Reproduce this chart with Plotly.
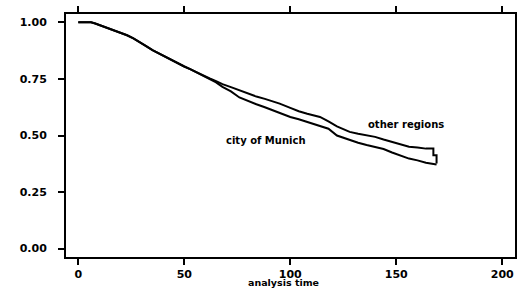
import plotly.graph_objects as go

# shared early part of both Kaplan-Meier curves
shared_t = [0, 6, 8, 10, 13, 16, 20, 23, 26, 29, 32, 35, 38, 41, 44, 47, 50, 53, 56, 59]
shared_s = [1.0, 1.0, 0.995, 0.988, 0.978, 0.968, 0.956, 0.943, 0.929, 0.913, 0.895,
            0.877, 0.862, 0.848, 0.833, 0.818, 0.805, 0.792, 0.778, 0.765]

other_t = [62, 65, 68, 72, 76, 80, 84, 88, 92, 95, 100, 104, 108, 112, 114, 118, 122,
           125, 128, 132, 136, 140, 144, 148, 152, 156, 160, 164, 167.5, 167.5, 169, 169]
other_s = [0.752, 0.740, 0.727, 0.714, 0.700, 0.684, 0.672, 0.662, 0.650, 0.641, 0.622,
           0.607, 0.596, 0.586, 0.582, 0.562, 0.540, 0.528, 0.516, 0.508, 0.500, 0.494,
           0.482, 0.472, 0.462, 0.450, 0.447, 0.442, 0.442, 0.413, 0.413, 0.376]

munich_t = [62, 65, 68, 72, 76, 80, 84, 88, 92, 95, 100, 104, 108, 114, 118, 122, 125,
            128, 132, 136, 140, 144, 148, 152, 156, 160, 164, 169]
munich_s = [0.750, 0.735, 0.715, 0.695, 0.668, 0.652, 0.638, 0.625, 0.610, 0.598, 0.582,
            0.572, 0.560, 0.543, 0.530, 0.500, 0.490, 0.480, 0.468, 0.458, 0.450, 0.440,
            0.425, 0.410, 0.398, 0.390, 0.380, 0.372]

x_ticks = [0, 50, 100, 150, 200]
y_ticks = [0, 0.25, 0.5, 0.75, 1.0]
y_tick_text = ["0.00", "0.25", "0.50", "0.75", "1.00"]

labels = ["other regions", "city of Munich"]
label_x = [154.6, 88.4]
label_y = [0.55, 0.479]

FONT = "DejaVu Sans"

fig = go.Figure()
for name, t, s in [("other regions", other_t, other_s), ("city of Munich", munich_t, munich_s)]:
    fig.add_trace(go.Scatter(
        x=shared_t + t, y=shared_s + s, mode="lines", name=name,
        line=dict(color="black", width=2), showlegend=False,
    ))

for txt, lx, ly in zip(labels, label_x, label_y):
    fig.add_annotation(x=lx, y=ly, text=txt, showarrow=False,
                       font=dict(family=FONT, size=10, color="black", weight="bold"),
                       xanchor="center", yanchor="middle")

fig.add_annotation(x=96.6, xref="x", y=-0.103, yref="paper", text="analysis time",
                   showarrow=False, xanchor="center", yanchor="middle",
                   font=dict(family=FONT, size=9.5, color="black", weight="bold"))

axis_common = dict(
    showline=True, linecolor="black", linewidth=2, mirror="ticks",
    ticks="outside", ticklen=6, tickwidth=2, tickcolor="black",
    showgrid=False, zeroline=False, automargin=False,
    tickfont=dict(family=FONT, size=11, color="black", weight="bold"),
)

fig.update_xaxes(range=[-5.8, 206], tickvals=x_ticks, **axis_common)
fig.update_yaxes(range=[-0.037, 1.037], tickvals=y_ticks, ticktext=y_tick_text,
                 ticklabelstandoff=9, **axis_common)

fig.update_layout(
    width=517, height=289,
    margin=dict(l=66, r=2, t=14, b=32),
    paper_bgcolor="white", plot_bgcolor="white",
)

fig.write_html("out.html", config={"displayModeBar": False},
               post_script="document.body.style.margin='0';document.body.style.overflow='hidden';")
